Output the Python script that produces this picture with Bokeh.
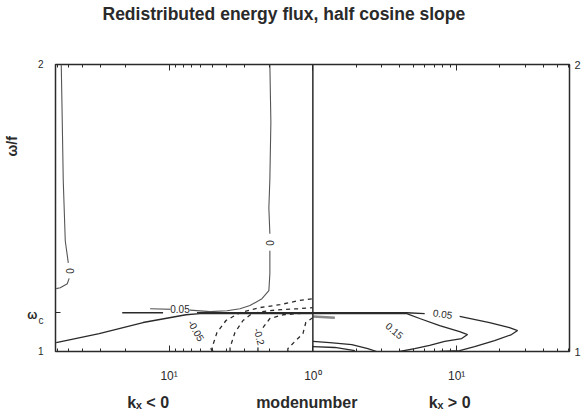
import math
from bokeh.plotting import figure
from bokeh.models import Range1d, FixedTicker, LinearAxis, Label, Span, Title
from bokeh.embed import file_html
from bokeh.resources import INLINE

# ---------------- data (u = signed log10 of modenumber; left panel kx<0 is negative) -------------
TITLE = "Redistributed energy flux, half cosine slope"
Y_LABEL = "ω/f"
X_LABEL = "modenumber"
PANEL_LEFT = "kₓ < 0"
PANEL_RIGHT = "kₓ > 0"
bottom_text_pos = [-1.146, -0.042, 0.951]
bottom_texts = [PANEL_LEFT, X_LABEL, PANEL_RIGHT]
x_major = [-1, 0, 1]
x_major_labels = ["10¹", "10⁰", "10¹"]
y_major = [1, 2]
y_major_labels = ["1", "2"]
omega_c = 1.135
omega_c_text = ["ω", "c"]
omega_c_text_pos = [1.128, 1.108]

# zero contours (solid, thin)
z1a_u = [-1.75, -1.743, -1.736, -1.722, -1.701]
z1a_y = [2.0, 1.802, 1.594, 1.385, 1.309]
z1b_u = [-1.695, -1.708, -1.757, -1.785]
z1b_y = [1.255, 1.236, 1.222, 1.219]
z2a_u = [-0.299, -0.292, -0.299, -0.306, -0.299]
z2a_y = [2.0, 1.8, 1.6, 1.5, 1.41]
z2b_u = [-0.299, -0.299, -0.306, -0.354, -0.4375, -0.507, -0.597, -0.715, -0.9, -1.132]
z2b_y = [1.351, 1.271, 1.212, 1.184, 1.160, 1.149, 1.142, 1.139, 1.146, 1.149]

# 0.05 contour, kx<0
c1a_u = [-1.326, -1.042]
c1a_y = [1.135, 1.135]
c1b_u = [-0.806, 0.0]
c1b_y = [1.135, 1.135]
c1l_u = [-1.785, -1.486, -1.181, -0.882, -0.785, -0.5, 0.0]
c1l_y = [1.031, 1.062, 1.101, 1.128, 1.132, 1.132, 1.132]

# negative contours (dashed), kx<0
f_u = [-0.694, -0.722]
f_y = [1.0, 1.017]
a_u = [-0.701, -0.701, -0.667, -0.604, -0.507, -0.368, -0.229, -0.104, 0.0]
a_y = [1.0, 1.014, 1.066, 1.108, 1.135, 1.153, 1.163, 1.177, 1.184]
b_u = [-0.576, -0.576, -0.542, -0.486, -0.424, -0.3125, -0.208, -0.104, 0.0]
b_y = [1.0, 1.014, 1.066, 1.108, 1.132, 1.142, 1.146, 1.149, 1.153]
cb_u = [-0.382, -0.382]
cb_y = [1.0, 1.021]
ct_u = [-0.347, -0.299, -0.208, -0.104, 0.0]
ct_y = [1.083, 1.115, 1.128, 1.132, 1.135]
d_u = [-0.174, -0.174, -0.125, -0.069, -0.049, 0.0]
d_y = [1.0, 1.010, 1.035, 1.0625, 1.101, 1.118]

# positive contours, kx>0
c2a_u = [0.0, 0.653, 0.778]
c2a_y = [1.135, 1.135, 1.132]
c2b_u = [1.021, 1.229, 1.368, 1.424, 1.382, 1.264, 1.125, 1.021, 0.882]
c2b_y = [1.122, 1.101, 1.083, 1.073, 1.059, 1.038, 1.017, 1.003, 1.0]
c3_u = [0.0, 0.653, 0.743, 0.882, 1.021, 1.076, 1.035, 0.917, 0.8125, 0.708, 0.604]
c3_y = [1.132, 1.132, 1.115, 1.090, 1.069, 1.059, 1.045, 1.035, 1.021, 1.010, 1.0]
b1_u = [0.0, 0.118, 0.271, 0.382, 0.444]
b1_y = [1.035, 1.031, 1.024, 1.010, 1.0]
b2_u = [0.0, 0.153, 0.292]
b2_y = [1.017, 1.014, 1.003]
g_u = [0.0, 0.153]
g_y = [1.122, 1.118]

# contour labels: (text, u, y, angle in degrees)
clabels = [
    ("0", -1.69, 1.281, 90),
    ("0", -0.299, 1.378, 90),
    ("0.05", -0.924, 1.149, 0),
    ("-0.05", -0.81, 1.073, -60),
    ("-0.2", -0.37, 1.052, -75),
    ("0.05", 0.903, 1.132, -8),
    ("0.15", 0.569, 1.073, -40),
]

# ---------------- figure -------------
INK = "#2a2a2a"
FONT = "Liberation Sans"
NBSP = "\u00a0"

p = figure(width=583, height=417, x_range=Range1d(-1.79, 1.785), y_range=Range1d(1, 2),
           output_backend="svg", toolbar_location=None, title=TITLE,
           min_border_left=55, min_border_right=13, min_border_top=63, min_border_bottom=66)
p.background_fill_color = "white"
p.border_fill_color = "white"
p.grid.visible = False
p.outline_line_color = INK
p.outline_line_width = 1.5

p.title.align = "left"
p.title.offset = 47
p.title.standoff = 2
p.title.text_font = FONT
p.title.text_font_size = "17.5px"
p.title.text_font_style = "bold"
p.title.text_color = INK

minor = []
for dec in (0, 1):
    for n in range(2, 10):
        v = dec + math.log10(n)
        if v < 1.78:
            minor += [v, -v]

# bottom: ticks + decade labels
xa = p.xaxis[0]
xa.ticker = FixedTicker(ticks=x_major, minor_ticks=minor)
xa.major_label_overrides = {t: l for t, l in zip(x_major, x_major_labels)}
xa.axis_line_color = None
xa.major_tick_in = 6
xa.major_tick_out = 0
xa.minor_tick_in = 3
xa.minor_tick_out = 0
xa.major_tick_line_color = INK
xa.minor_tick_line_color = INK
xa.major_label_standoff = 17
xa.major_label_text_font = FONT
xa.major_label_text_font_size = "12px"
xa.major_label_text_color = INK

# bottom: panel names and axis title
xb = LinearAxis(ticker=FixedTicker(ticks=bottom_text_pos, minor_ticks=[]),
                major_label_overrides={t: l for t, l in zip(bottom_text_pos, bottom_texts)},
                axis_line_color=None, major_tick_line_color=None,
                major_tick_in=0, major_tick_out=0, major_label_standoff=8,
                major_label_text_font=FONT, major_label_text_font_size="16px",
                major_label_text_font_style="bold", major_label_text_color=INK)
p.add_layout(xb, "below")

# top: tick marks; blank labels whose standoff leaves the room between frame and title
top = LinearAxis(ticker=FixedTicker(ticks=x_major, minor_ticks=minor),
                 major_label_overrides={t: NBSP for t in x_major},
                 major_label_text_font_size="1px", axis_line_color=None,
                 major_tick_in=6, major_tick_out=0, minor_tick_in=3, minor_tick_out=0,
                 major_label_standoff=36, major_tick_line_color=INK, minor_tick_line_color=INK)
p.add_layout(top, "above")

# left: tick marks only
ya = p.yaxis[0]
ya.ticker = FixedTicker(ticks=y_major + [omega_c], minor_ticks=[])
ya.major_label_overrides = {t: NBSP for t in y_major + [omega_c]}
ya.axis_line_color = None
ya.major_tick_in = 5
ya.major_tick_out = 0
ya.major_tick_line_color = INK
ya.major_label_standoff = 0
ya.major_label_text_font_size = "1px"

# left: tick labels 1, 2 and the subscript c
ya1_ticks = y_major + [omega_c_text_pos[1]]
ya1_labels = y_major_labels + [omega_c_text[1]]
ya1 = LinearAxis(ticker=FixedTicker(ticks=ya1_ticks, minor_ticks=[]),
                 major_label_overrides={t: l for t, l in zip(ya1_ticks, ya1_labels)},
                 axis_line_color=None, major_tick_line_color=None,
                 major_tick_in=0, major_tick_out=0, major_label_standoff=9,
                 major_label_text_font=FONT, major_label_text_font_size="10px",
                 major_label_text_color=INK)
p.add_layout(ya1, "left")

# left: omega of omega_c
ya2 = LinearAxis(ticker=FixedTicker(ticks=[omega_c_text_pos[0]], minor_ticks=[]),
                 major_label_overrides={omega_c_text_pos[0]: omega_c_text[0]},
                 axis_line_color=None, major_tick_line_color=None,
                 major_tick_in=0, major_tick_out=0, major_label_standoff=-3,
                 major_label_text_font=FONT, major_label_text_font_size="12px",
                 major_label_text_font_style="bold", major_label_text_color=INK)
p.add_layout(ya2, "left")

# left: spacer before the y title
ya3 = LinearAxis(ticker=FixedTicker(ticks=[1.5], minor_ticks=[]),
                 major_label_overrides={1.5: NBSP}, axis_line_color=None,
                 major_tick_line_color=None, major_tick_in=0, major_tick_out=0,
                 major_label_standoff=2, major_label_text_font_size="1px")
p.add_layout(ya3, "left")

p.add_layout(Title(text=Y_LABEL, align="left", offset=195, standoff=0,
                   text_font=FONT, text_font_size="14px", text_font_style="bold",
                   text_color=INK), "left")

right = LinearAxis(ticker=FixedTicker(ticks=y_major, minor_ticks=[]),
                   major_label_overrides={t: l for t, l in zip(y_major, y_major_labels)},
                   major_label_text_font=FONT, major_label_text_font_size="11px",
                   major_label_text_color=INK, axis_line_color=None,
                   major_tick_in=5, major_tick_out=0, major_label_standoff=5,
                   major_tick_line_color=INK)
p.add_layout(right, "right")

p.add_layout(Span(location=0, dimension="height", line_color=INK, line_width=1.5))

solid = [(z1a_u, z1a_y), (z1b_u, z1b_y), (z2a_u, z2a_y), (z2b_u, z2b_y)]
for u, y in solid:
    p.line(u, y, line_color="#555555", line_width=1.1)
for u, y in [(c1a_u, c1a_y), (c1b_u, c1b_y), (c1l_u, c1l_y), (c2a_u, c2a_y), (c2b_u, c2b_y),
             (c3_u, c3_y), (b1_u, b1_y), (b2_u, b2_y)]:
    p.line(u, y, line_color=INK, line_width=1.3)
p.line(g_u, g_y, line_color="#888888", line_width=2.5)
for u, y in [(f_u, f_y), (a_u, a_y), (b_u, b_y), (cb_u, cb_y), (ct_u, ct_y), (d_u, d_y)]:
    p.line(u, y, line_color=INK, line_width=1.3, line_dash="4 4")

for t, u, y, ang in clabels:
    p.add_layout(Label(x=u, y=y, text=t, angle=math.radians(ang), text_align="center",
                       text_baseline="middle", text_font=FONT, text_font_size="10px",
                       text_color=INK, background_fill_color="white" if ang == 0 or t == "0" else None))

open("out.html", "w").write(file_html(p, INLINE))
